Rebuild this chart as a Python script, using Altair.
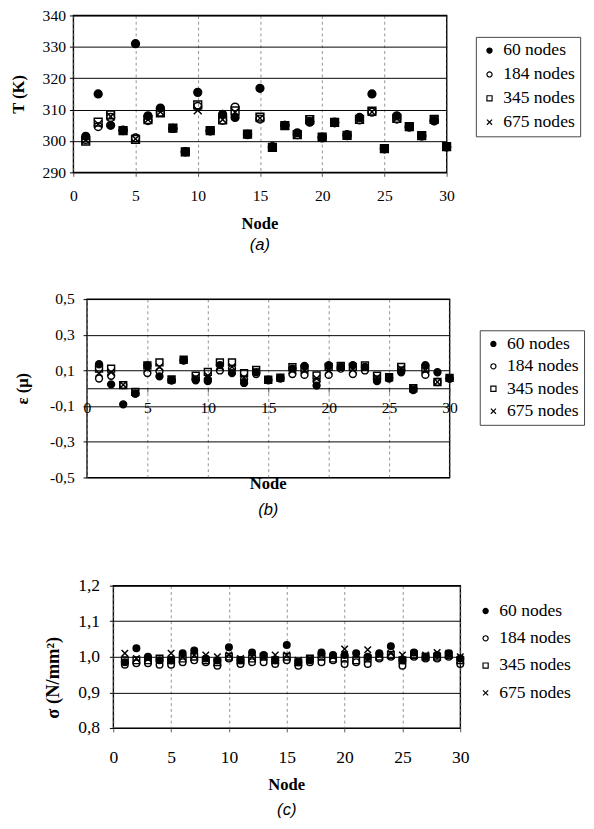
import altair as alt
import pandas as pd

nodes = list(range(1, 31))
series_names = ["60 nodes", "184 nodes", "345 nodes", "675 nodes"]

# Panel (a): temperature T (K)
T_60 = [301.5, 315.0, 305.0, 303.5, 331.0, 308.0, 310.5, 304.0, 296.5, 315.5,
        303.3, 308.5, 307.5, 302.2, 316.8, 298.2, 305.0, 302.6, 306.0, 301.0,
        306.0, 302.0, 307.5, 315.0, 297.6, 308.0, 304.5, 301.7, 306.5, 298.1]
T_184 = [300.5, 304.6, 307.5, 303.3, 301.0, 306.5, 309.2, 304.0, 296.6, 311.0,
         303.2, 306.6, 310.8, 302.0, 307.0, 298.0, 305.0, 302.0, 306.2, 301.2,
         305.8, 301.7, 306.7, 309.2, 297.5, 307.0, 304.5, 301.6, 306.4, 298.2]
T_345 = [300.0, 306.0, 308.3, 303.3, 300.5, 306.8, 309.0, 304.1, 296.5, 311.5,
         303.3, 306.7, 309.6, 302.2, 307.6, 298.0, 304.9, 302.0, 306.8, 301.2,
         305.9, 301.8, 306.9, 309.5, 297.6, 307.2, 304.6, 301.7, 306.9, 298.2]
T_675 = [300.3, 305.4, 307.8, 303.3, 300.7, 306.8, 309.3, 304.1, 296.5, 309.8,
         303.3, 306.8, 309.2, 302.2, 307.3, 298.0, 305.0, 302.0, 306.6, 301.1,
         305.8, 301.8, 306.8, 309.3, 297.6, 307.2, 304.6, 301.7, 306.8, 298.2]

# Panel (b): strain epsilon (micro)
E_60 = [0.135, 0.022, -0.090, -0.030, 0.128, 0.067, 0.045, 0.158, 0.045, 0.040,
        0.130, 0.085, 0.030, 0.090, 0.045, 0.055, 0.110, 0.125, 0.015, 0.130,
        0.120, 0.130, 0.120, 0.040, 0.055, 0.090, -0.010, 0.130, 0.090, 0.055]
E_184 = [0.055, 0.070, 0.018, -0.030, 0.085, 0.095, 0.045, 0.155, 0.050, 0.050,
         0.100, 0.110, 0.050, 0.080, 0.048, 0.058, 0.080, 0.075, 0.040, 0.075,
         0.110, 0.080, 0.100, 0.050, 0.060, 0.100, 0.000, 0.075, 0.035, 0.055]
E_345 = [0.110, 0.110, 0.018, -0.020, 0.128, 0.145, 0.050, 0.160, 0.070, 0.092,
         0.145, 0.145, 0.085, 0.103, 0.048, 0.060, 0.118, 0.110, 0.072, 0.120,
         0.125, 0.120, 0.128, 0.070, 0.062, 0.120, 0.000, 0.110, 0.035, 0.058]
E_675 = [0.085, 0.090, 0.020, -0.025, 0.110, 0.120, 0.048, 0.158, 0.060, 0.070,
         0.120, 0.120, 0.060, 0.095, 0.048, 0.058, 0.100, 0.100, 0.055, 0.100,
         0.120, 0.105, 0.115, 0.060, 0.060, 0.110, 0.000, 0.100, 0.035, 0.057]

# Panel (c): stress sigma (N/mm2)
S_60 = [0.985, 1.024, 1.000, 0.990, 0.990, 1.010, 1.018, 0.995, 0.990, 1.027,
        0.990, 1.012, 1.005, 0.990, 1.033, 0.985, 0.990, 1.012, 1.005, 1.005,
        1.010, 1.000, 1.010, 1.030, 0.990, 1.012, 1.000, 1.005, 1.010, 0.995]
S_184 = [0.978, 0.982, 0.982, 0.978, 0.978, 0.985, 0.990, 0.985, 0.975, 0.995,
         0.980, 0.985, 0.985, 0.980, 0.990, 0.975, 0.985, 0.985, 0.990, 0.980,
         0.985, 0.980, 0.995, 1.000, 0.975, 1.000, 0.995, 0.995, 1.000, 0.980]
S_345 = [0.990, 0.990, 0.990, 0.995, 0.990, 0.995, 1.000, 0.990, 0.985, 1.000,
         0.990, 0.995, 1.000, 0.990, 1.000, 0.985, 0.995, 1.000, 0.995, 0.995,
         0.990, 0.995, 1.000, 1.005, 0.990, 1.005, 1.000, 1.000, 1.005, 0.990]
S_675 = [1.010, 0.995, 0.995, 0.990, 1.010, 1.000, 1.005, 1.005, 1.000, 1.005,
         0.995, 1.000, 1.000, 1.005, 1.005, 0.990, 0.995, 1.005, 1.000, 1.022,
         1.005, 1.020, 1.005, 1.010, 1.005, 1.010, 1.005, 1.012, 1.010, 1.000]

x_ticks = [0, 5, 10, 15, 20, 25, 30]
T_ticks = [290, 300, 310, 320, 330, 340]
E_ticks = [-0.5, -0.3, -0.1, 0.1, 0.3, 0.5]
S_ticks = [0.8, 0.9, 1.0, 1.1, 1.2]

SERIF = "Liberation Serif"
SANS = "Liberation Sans"
CROSS = "M-1,-1L1,1M-1,1L1,-1"


def long_df(cols):
    rows = []
    for name, vals in zip(series_names, cols):
        for n, v in zip(nodes, vals):
            rows.append({"node": n, "series": name, "value": v})
    return pd.DataFrame(rows)


COMMA1 = "(datum.value < 0 ? '-' : '') + replace(format(abs(datum.value), '.1f'), '.', ',')"

RES = dict(shape="independent", fill="independent", stroke="independent")


def panel(df, ydomain, yticks, ylabelexpr, ytitle, ytitle_size, width, height,
          size, lx, ly, row_pad, caption, y_label_pad, y_title_x, y_title_y,
          x_offset, x_label_pad, x_domain, title_offset, sub_pad, lab_size,
          legend_stroke):
    legend = alt.Legend(
        orient="none", legendX=lx, legendY=ly, title=None,
        labelFont=SERIF, labelFontSize=18, labelColor="black",
        symbolSize=28, symbolStrokeWidth=1.2,
        rowPadding=row_pad, labelOffset=5, padding=5,
        strokeColor=legend_stroke, fillColor="white",
    )
    shape_scale = alt.Scale(domain=series_names,
                            range=["circle", "circle", "square", CROSS])
    fill_scale = alt.Scale(domain=series_names,
                           range=["black", "transparent", "transparent",
                                  "transparent"])
    stroke_scale = alt.Scale(domain=series_names,
                             range=["black", "black", "black", "black"])
    yaxis_kwargs = dict(
        values=yticks, title=ytitle, grid=True, gridColor="black",
        gridWidth=1, domain=False, ticks=True, tickColor="black",
        tickSize=4, labelPadding=y_label_pad, labelFont=SERIF,
        labelFontSize=lab_size, labelColor="black", titleFont=SERIF,
        titleFontSize=ytitle_size, titleFontWeight="bold", titleColor="black",
        titleAngle=270, titleBaseline="middle", titleX=y_title_x,
    )
    if y_title_y is not None:
        yaxis_kwargs["titleY"] = y_title_y
    if ylabelexpr:
        yaxis_kwargs["labelExpr"] = ylabelexpr
    xaxis = alt.Axis(
        values=x_ticks, title=None, grid=True, gridColor="#777",
        gridDash=[3, 3], gridWidth=0.8, domain=x_domain, domainColor="black",
        domainWidth=1.2, ticks=True, tickColor="#555", tickSize=4,
        labelPadding=x_label_pad, labelFont=SERIF, labelFontSize=lab_size,
        labelColor="black", offset=x_offset, labelFlush=False,
    )
    chart = alt.Chart(df).mark_point(
        strokeWidth=1.5, opacity=1, size=size
    ).encode(
        x=alt.X("node:Q", scale=alt.Scale(domain=[0, 30], nice=False),
                axis=xaxis),
        y=alt.Y("value:Q", scale=alt.Scale(domain=ydomain, nice=False,
                                           zero=False),
                axis=alt.Axis(**yaxis_kwargs)),
        shape=alt.Shape("series:N", scale=shape_scale, legend=legend),
        fill=alt.Fill("series:N", scale=fill_scale, legend=legend),
        stroke=alt.Stroke("series:N", scale=stroke_scale, legend=legend),
    ).properties(
        width=width, height=height,
        title=alt.TitleParams(
            text="Node", subtitle=caption, orient="bottom", anchor="middle",
            frame="group", font=SERIF, fontSize=17, fontWeight="bold",
            color="black", subtitleFont=SANS, subtitleFontSize=17,
            subtitleFontStyle="italic", subtitleColor="black",
            offset=title_offset, subtitlePadding=sub_pad,
        ),
    )
    return chart


def spacer(w):
    return alt.Chart(pd.DataFrame({"a": [0]})).mark_point(opacity=0).transform_filter(
        "false"
    ).properties(
        width=w, height=1, view=alt.ViewBackground(strokeOpacity=0)
    )


pa = panel(long_df([T_60, T_184, T_345, T_675]), [290, 340], T_ticks, None,
           "T (K)", 17, 383, 161, 64, 413, 22, 6.5, "(a)", 4, -56, None,
           0, 12, False, 13, 5, 16, "#444")
pb = panel(long_df([E_60, E_184, E_345, E_675]), [-0.5, 0.5], E_ticks, COMMA1,
           "ε (μ)", 17, 372, 183, 50, 403, 32, 5, "(b)", 9, -66, None,
           -91.5, 8, True, -9, 9, 16, "#444")
pc = panel(long_df([S_60, S_184, S_345, S_675]), [0.8, 1.2], S_ticks, COMMA1,
           "σ (N/mm²)", 19, 356, 146, 45, 368, 12, 10, "(c)", 10, -62, 94,
           0, 17, False, 12, 8, 18, None)

row_a = alt.hconcat(spacer(1), pa, spacing=0).resolve_scale(**RES).resolve_legend(**RES)
row_b = alt.hconcat(spacer(5), pb, spacing=0).resolve_scale(**RES).resolve_legend(**RES)
row_c = alt.hconcat(spacer(36), pc, spacing=0).resolve_scale(**RES).resolve_legend(**RES)

top = alt.vconcat(row_a, row_b, spacing=37).resolve_scale(**RES).resolve_legend(**RES)

chart = alt.vconcat(
    top, row_c, spacing=59,
).resolve_scale(**RES).resolve_legend(**RES).properties(
    padding={"top": -12, "left": 0, "right": 0, "bottom": 0},
    background="white",
).configure_view(
    stroke="black", strokeWidth=1.4
)

chart.save("out.html", embed_options={"renderer": "svg", "actions": False})
